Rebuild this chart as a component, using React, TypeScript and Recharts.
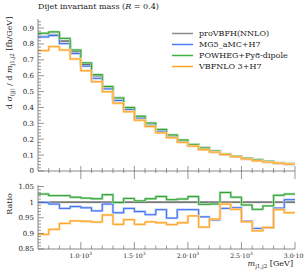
import React from 'react';
import { LineChart, Line, XAxis, YAxis, Legend } from 'recharts';

const binStarts = [600, 700, 800, 900, 1000, 1100, 1200, 1300, 1400, 1500, 1600, 1700, 1800, 1900, 2000, 2100, 2200, 2300, 2400, 2500, 2600, 2700, 2800, 2900];
const lastEdge = 3000;

const proVBFH = [0.845, 0.858, 0.818, 0.750, 0.672, 0.600, 0.520, 0.460, 0.395, 0.344, 0.299, 0.257, 0.225, 0.193, 0.164, 0.146, 0.126, 0.105, 0.091, 0.081, 0.071, 0.061, 0.050, 0.044];
const mg5 = [0.844, 0.853, 0.802, 0.740, 0.660, 0.583, 0.517, 0.444, 0.387, 0.334, 0.287, 0.251, 0.214, 0.188, 0.160, 0.139, 0.119, 0.103, 0.089, 0.076, 0.065, 0.056, 0.049, 0.044];
const powheg = [0.867, 0.876, 0.835, 0.762, 0.681, 0.607, 0.532, 0.460, 0.400, 0.345, 0.302, 0.262, 0.227, 0.195, 0.167, 0.145, 0.125, 0.108, 0.092, 0.080, 0.069, 0.060, 0.051, 0.045];
const vbfnlo = [0.758, 0.783, 0.762, 0.705, 0.631, 0.562, 0.499, 0.427, 0.373, 0.320, 0.280, 0.240, 0.209, 0.180, 0.157, 0.134, 0.119, 0.104, 0.089, 0.076, 0.064, 0.056, 0.049, 0.043];

const ratioPro = [1, 1, 1, 1, 1, 1, 1, 1, 1, 1, 1, 1, 1, 1, 1, 1, 1, 1, 1, 1, 1, 1, 1, 1];
const ratioMg5 = [0.999, 0.994, 0.980, 0.986, 0.982, 0.972, 0.994, 0.966, 0.980, 0.970, 0.960, 0.976, 0.949, 0.976, 0.976, 0.953, 0.943, 0.980, 0.982, 0.939, 0.916, 0.918, 0.981, 1.008];
const ratioPowheg = [1.026, 1.021, 1.021, 1.016, 1.013, 1.011, 1.024, 0.999, 1.012, 1.004, 1.011, 1.018, 1.008, 1.010, 1.018, 0.993, 0.994, 1.031, 1.016, 0.991, 0.977, 0.988, 1.022, 1.026];
const ratioVbfnlo = [0.897, 0.913, 0.932, 0.940, 0.939, 0.936, 0.959, 0.929, 0.944, 0.929, 0.937, 0.934, 0.928, 0.934, 0.956, 0.920, 0.946, 0.994, 0.977, 0.937, 0.908, 0.919, 0.976, 0.966];

const legendNames = ['proVBFH(NNLO)', 'MG5_aMC+H7', 'POWHEG+Py8-dipole', 'VBFNLO 3+H7'];
const legendColors = ['#8c8c8c', '#4a7cf2', '#3db043', '#ffa41e'];

const xMajorTicks = [1000, 1500, 2000, 2500, 3000];
const xMinorTicks = [700, 800, 900, 1100, 1200, 1300, 1400, 1600, 1700, 1800, 1900, 2100, 2200, 2300, 2400, 2600, 2700, 2800, 2900];
const upperMajorTicks = [0, 0.1, 0.2, 0.3, 0.4, 0.5, 0.6, 0.7, 0.8, 0.9];
const ratioMajorTicks = [0.85, 0.9, 0.95, 1, 1.05];

const FONT = "'DejaVu Serif', serif";
const AXIS = '#6b6b6b';
const TEXT = '#222';

const xTicks = [...xMinorTicks, ...xMajorTicks].sort((a, b) => a - b);
const upperTicks: number[] = [];
for (let i = 0; i <= 47; i++) upperTicks.push(Math.round(i * 2) / 100);
const ratioTicks: number[] = [];
for (let i = 85; i <= 105; i++) ratioTicks.push(i / 100);

const near = (v: number, arr: number[]) => arr.some((a) => Math.abs(a - v) < 1e-6);

const upperData = binStarts.map((m, i) => ({ m, pro: proVBFH[i], mg5: mg5[i], pow: powheg[i], vbf: vbfnlo[i] }));
upperData.push({ m: lastEdge, pro: proVBFH[23], mg5: mg5[23], pow: powheg[23], vbf: vbfnlo[23] });
const ratioData = binStarts.map((m, i) => ({ m, pro: ratioPro[i], mg5: ratioMg5[i], pow: ratioPowheg[i], vbf: ratioVbfnlo[i] }));
ratioData.push({ m: lastEdge, pro: ratioPro[23], mg5: ratioMg5[23], pow: ratioPowheg[23], vbf: ratioVbfnlo[23] });

const series = [
  { key: 'pro', dark: '#555555', light: '#bdbdbd' },
  { key: 'mg5', dark: '#3d6ff0', light: '#b2c8f8' },
  { key: 'pow', dark: '#2e9e35', light: '#a6dca8' },
  { key: 'vbf', dark: '#fca020', light: '#ffd79a' },
];

const fmtY = (v: number) => String(Number(v.toFixed(2)));

const leftTick = (majors: number[]) => (p: any) => {
  const v = p.payload.value;
  const major = near(v, majors);
  return (
    <g>
      <line x1={p.x} x2={p.x + (major ? 6 : 3)} y1={p.y} y2={p.y} stroke={AXIS} strokeWidth={0.7} />
      {major && (
        <text x={p.x - 4} y={p.y} dy="0.35em" textAnchor="end" fontSize={7} fontFamily={FONT} fill={TEXT}>
          {fmtY(v)}
        </text>
      )}
    </g>
  );
};

const rightTick = (majors: number[]) => (p: any) => {
  const v = p.payload.value;
  const major = near(v, majors);
  return <line x1={p.x} x2={p.x - (major ? 6 : 3)} y1={p.y} y2={p.y} stroke={AXIS} strokeWidth={0.7} />;
};

const topTick = (p: any) => {
  const v = p.payload.value;
  const major = near(v, xMajorTicks);
  return <line x1={p.x} x2={p.x} y1={p.y} y2={p.y + (major ? 6 : 3)} stroke={AXIS} strokeWidth={0.7} />;
};

const upperBottomTick = (p: any) => {
  const v = p.payload.value;
  const major = near(v, xMajorTicks);
  return <line x1={p.x} x2={p.x} y1={p.y - (major ? 5 : 3)} y2={p.y + (major ? 8 : 2)} stroke={AXIS} strokeWidth={0.7} />;
};

const lowerBottomTick = (p: any) => {
  const v = p.payload.value;
  const major = near(v, xMajorTicks);
  return (
    <g>
      <line x1={p.x} x2={p.x} y1={p.y} y2={p.y - (major ? 7 : 3.5)} stroke={AXIS} strokeWidth={0.7} />
      {major && (
        <text x={p.x} y={p.y + 8.5} textAnchor="middle" fontSize={6.2} fontFamily={FONT} fill={TEXT}>
          <tspan>{(v / 1000).toFixed(1)}·10</tspan>
          <tspan dy={-2.6} fontSize={4.4}>3</tspan>
        </text>
      )}
    </g>
  );
};

const renderLegend = () => (
  <div style={{ fontFamily: FONT, fontSize: 8, color: TEXT }}>
    {legendNames.map((n, i) => (
      <div key={n} style={{ display: 'flex', alignItems: 'center', height: 11 }}>
        <svg width={21} height={11} style={{ display: 'block' }}>
          <line x1={0} x2={21} y1={5.5} y2={5.5} stroke={legendColors[i]} strokeWidth={1.5} />
        </svg>
        <span style={{ marginLeft: 6, whiteSpace: 'nowrap' }}>{n}</span>
      </div>
    ))}
  </div>
);

const renderSeries = () => {
  const out: React.ReactNode[] = [];
  series.forEach((s) => {
    out.push(
      <Line key={s.key + '-band'} type="stepAfter" dataKey={s.key} stroke={s.light} strokeWidth={2.4} dot={false} activeDot={false} isAnimationActive={false} legendType="none" />
    );
    out.push(
      <Line key={s.key + '-line'} type="stepAfter" dataKey={s.key} stroke={s.dark} strokeWidth={1} dot={false} activeDot={false} isAnimationActive={false} legendType="none" />
    );
  });
  return out;
};

const axisLine = { stroke: AXIS, strokeWidth: 0.8 };

export default function App() {
  return (
    <div style={{ position: 'absolute', left: 0, top: 0, width: 304, height: 274, background: '#fff' }}>
      <div style={{ position: 'absolute', left: 0, top: 0 }}>
        <LineChart width={304} height={180} data={upperData} margin={{ top: 19, right: 9, bottom: 0, left: 0 }}>
          <XAxis dataKey="m" type="number" domain={[600, 3000]} allowDataOverflow ticks={xTicks} interval={0} height={9}
            axisLine={axisLine} tickLine={false} tickSize={0} tickMargin={0} tick={upperBottomTick} />
          <XAxis xAxisId="top" orientation="top" dataKey="m" type="number" domain={[600, 3000]} allowDataOverflow ticks={xTicks} interval={0} height={0}
            axisLine={axisLine} tickLine={false} tickSize={0} tickMargin={0} tick={topTick} />
          <YAxis type="number" domain={[0, 0.957]} allowDataOverflow ticks={upperTicks} interval={0} width={38}
            axisLine={axisLine} tickLine={false} tickSize={0} tickMargin={0} tick={leftTick(upperMajorTicks)} />
          <YAxis yAxisId="right" orientation="right" type="number" domain={[0, 0.957]} allowDataOverflow ticks={upperTicks} interval={0} width={0}
            axisLine={axisLine} tickLine={false} tickSize={0} tickMargin={0} tick={rightTick(upperMajorTicks)} />
          {renderSeries()}
          <Legend layout="horizontal" verticalAlign="middle" align="center" content={renderLegend}
            wrapperStyle={{ left: 172, top: 27.5, width: 130, height: 44 }} />
        </LineChart>
      </div>
      <div style={{ position: 'absolute', left: 0, top: 180 }}>
        <LineChart width={304} height={94} data={ratioData} margin={{ top: 5, right: 9, bottom: 0, left: 0 }}>
          <XAxis dataKey="m" type="number" domain={[600, 3000]} allowDataOverflow ticks={xTicks} interval={0} height={25}
            axisLine={axisLine} tickLine={false} tickSize={0} tickMargin={0} tick={lowerBottomTick} />
          <XAxis xAxisId="top" orientation="top" dataKey="m" type="number" domain={[600, 3000]} allowDataOverflow ticks={xTicks} interval={0} height={0}
            axisLine={axisLine} tickLine={false} tickSize={0} tickMargin={0} tick={topTick} />
          <YAxis type="number" domain={[0.85, 1.055]} allowDataOverflow ticks={ratioTicks} interval={0} width={38}
            axisLine={axisLine} tickLine={false} tickSize={0} tickMargin={0} tick={leftTick(ratioMajorTicks)} />
          <YAxis yAxisId="right" orientation="right" type="number" domain={[0.85, 1.055]} allowDataOverflow ticks={ratioTicks} interval={0} width={0}
            axisLine={axisLine} tickLine={false} tickSize={0} tickMargin={0} tick={rightTick(ratioMajorTicks)} />
          {renderSeries()}
        </LineChart>
      </div>
      <svg width={304} height={274} style={{ position: 'absolute', left: 0, top: 0, pointerEvents: 'none' }}>
        <text x={38} y={9} fontSize={8} fontFamily={FONT} fill={TEXT}>
          Dijet invariant mass (<tspan fontStyle="italic">R</tspan> = 0.4)
        </text>
        <text transform="translate(11.5,63) rotate(-90)" textAnchor="middle" fontSize={8} fontFamily={FONT} fill={TEXT}>
          <tspan>d </tspan>
          <tspan fontStyle="italic">σ</tspan>
          <tspan fontSize={5.5} dy={2}>(jj)</tspan>
          <tspan dy={-2}> / d </tspan>
          <tspan fontStyle="italic">m</tspan>
          <tspan fontSize={5.5} dy={2}>j1,j2</tspan>
          <tspan dy={-2}> [fb/GeV]</tspan>
        </text>
        <text transform="translate(11.5,204) rotate(-90)" textAnchor="middle" fontSize={8} fontFamily={FONT} fill={TEXT}>
          Ratio
        </text>
        <text x={293} y={266} textAnchor="end" fontSize={8} fontFamily={FONT} fill={TEXT}>
          <tspan fontStyle="italic">m</tspan>
          <tspan fontSize={5.5} dy={2}>j1,j2</tspan>
          <tspan dy={-2}> [GeV]</tspan>
        </text>
      </svg>
    </div>
  );
}
